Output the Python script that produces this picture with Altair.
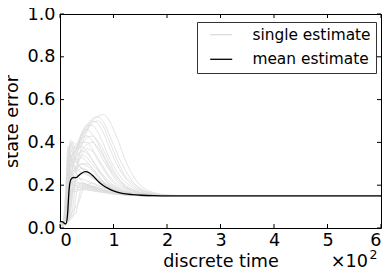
import altair as alt
import pandas as pd

# ---- data ----
t_grid = [0, 5, 10, 15, 20, 25, 30, 35, 40, 50, 60, 70, 80, 90, 100, 110, 120, 135, 150, 170, 200, 250, 600]

single_runs = [
    [0.03, 0.01, 0.02, 0.12, 0.28, 0.33, 0.36, 0.38, 0.41, 0.46, 0.50, 0.52, 0.53, 0.51, 0.46, 0.40, 0.33, 0.25, 0.20, 0.17, 0.155, 0.15, 0.15],
    [0.03, 0.01, 0.03, 0.18, 0.30, 0.34, 0.37, 0.40, 0.43, 0.48, 0.51, 0.52, 0.50, 0.45, 0.39, 0.33, 0.28, 0.22, 0.185, 0.165, 0.153, 0.15, 0.15],
    [0.03, 0.02, 0.05, 0.22, 0.33, 0.35, 0.36, 0.39, 0.42, 0.47, 0.50, 0.49, 0.45, 0.39, 0.33, 0.28, 0.24, 0.20, 0.175, 0.16, 0.152, 0.15, 0.15],
    [0.03, 0.02, 0.04, 0.20, 0.35, 0.38, 0.37, 0.40, 0.44, 0.48, 0.48, 0.45, 0.40, 0.34, 0.29, 0.25, 0.22, 0.19, 0.17, 0.158, 0.151, 0.15, 0.15],
    [0.03, 0.02, 0.06, 0.25, 0.38, 0.40, 0.39, 0.41, 0.44, 0.46, 0.44, 0.40, 0.35, 0.30, 0.26, 0.23, 0.20, 0.18, 0.165, 0.156, 0.151, 0.15, 0.15],
    [0.03, 0.01, 0.03, 0.15, 0.30, 0.36, 0.38, 0.40, 0.42, 0.43, 0.41, 0.37, 0.32, 0.28, 0.24, 0.21, 0.19, 0.175, 0.162, 0.155, 0.15, 0.15, 0.15],
    [0.03, 0.02, 0.08, 0.28, 0.41, 0.39, 0.37, 0.38, 0.40, 0.40, 0.37, 0.33, 0.29, 0.25, 0.22, 0.20, 0.185, 0.17, 0.16, 0.154, 0.15, 0.15, 0.15],
    [0.03, 0.01, 0.02, 0.10, 0.22, 0.30, 0.34, 0.37, 0.39, 0.45, 0.49, 0.50, 0.48, 0.42, 0.36, 0.30, 0.25, 0.21, 0.18, 0.162, 0.152, 0.15, 0.15],
    [0.03, 0.02, 0.06, 0.25, 0.33, 0.32, 0.33, 0.35, 0.36, 0.35, 0.32, 0.28, 0.25, 0.22, 0.20, 0.185, 0.175, 0.165, 0.158, 0.153, 0.15, 0.15, 0.15],
    [0.03, 0.02, 0.10, 0.30, 0.36, 0.34, 0.32, 0.33, 0.34, 0.33, 0.30, 0.27, 0.24, 0.21, 0.195, 0.18, 0.17, 0.162, 0.156, 0.152, 0.15, 0.15, 0.15],
    [0.03, 0.01, 0.04, 0.18, 0.28, 0.30, 0.31, 0.32, 0.33, 0.31, 0.28, 0.25, 0.22, 0.20, 0.185, 0.175, 0.168, 0.16, 0.155, 0.152, 0.15, 0.15, 0.15],
    [0.03, 0.02, 0.05, 0.22, 0.30, 0.28, 0.27, 0.29, 0.30, 0.29, 0.27, 0.24, 0.215, 0.195, 0.18, 0.172, 0.165, 0.158, 0.154, 0.151, 0.15, 0.15, 0.15],
    [0.03, 0.01, 0.02, 0.08, 0.20, 0.26, 0.29, 0.31, 0.34, 0.37, 0.36, 0.32, 0.28, 0.24, 0.21, 0.19, 0.177, 0.165, 0.157, 0.152, 0.15, 0.15, 0.15],
    [0.03, 0.02, 0.12, 0.35, 0.39, 0.35, 0.31, 0.29, 0.28, 0.27, 0.25, 0.23, 0.21, 0.195, 0.18, 0.17, 0.164, 0.157, 0.153, 0.151, 0.15, 0.15, 0.15],
    [0.03, 0.01, 0.03, 0.15, 0.25, 0.27, 0.26, 0.27, 0.28, 0.27, 0.25, 0.23, 0.21, 0.19, 0.178, 0.17, 0.163, 0.157, 0.153, 0.151, 0.15, 0.15, 0.15],
    [0.03, 0.02, 0.07, 0.28, 0.32, 0.30, 0.28, 0.27, 0.26, 0.25, 0.235, 0.22, 0.205, 0.19, 0.178, 0.17, 0.163, 0.156, 0.152, 0.15, 0.15, 0.15, 0.15],
    [0.03, 0.02, 0.08, 0.22, 0.24, 0.22, 0.21, 0.21, 0.21, 0.20, 0.195, 0.19, 0.18, 0.172, 0.166, 0.162, 0.158, 0.154, 0.152, 0.15, 0.15, 0.15, 0.15],
    [0.03, 0.01, 0.05, 0.20, 0.22, 0.20, 0.19, 0.19, 0.195, 0.19, 0.185, 0.178, 0.172, 0.167, 0.162, 0.158, 0.155, 0.152, 0.151, 0.15, 0.15, 0.15, 0.15],
    [0.03, 0.02, 0.04, 0.16, 0.19, 0.18, 0.18, 0.18, 0.185, 0.18, 0.176, 0.172, 0.168, 0.164, 0.16, 0.157, 0.155, 0.152, 0.151, 0.15, 0.15, 0.15, 0.15],
    [0.03, 0.01, 0.02, 0.05, 0.15, 0.19, 0.20, 0.20, 0.20, 0.195, 0.19, 0.183, 0.176, 0.17, 0.164, 0.16, 0.156, 0.153, 0.151, 0.15, 0.15, 0.15, 0.15],
    [0.03, 0.01, 0.02, 0.03, 0.08, 0.18, 0.22, 0.23, 0.23, 0.22, 0.21, 0.20, 0.19, 0.18, 0.172, 0.166, 0.161, 0.156, 0.153, 0.151, 0.15, 0.15, 0.15],
    [0.03, 0.01, 0.02, 0.03, 0.04, 0.06, 0.15, 0.20, 0.21, 0.205, 0.198, 0.19, 0.182, 0.175, 0.168, 0.163, 0.159, 0.155, 0.152, 0.15, 0.15, 0.15, 0.15],
    [0.03, 0.02, 0.02, 0.04, 0.05, 0.06, 0.07, 0.14, 0.18, 0.19, 0.185, 0.18, 0.175, 0.17, 0.165, 0.16, 0.157, 0.154, 0.152, 0.15, 0.15, 0.15, 0.15],
    [0.03, 0.02, 0.10, 0.26, 0.27, 0.24, 0.22, 0.21, 0.205, 0.20, 0.19, 0.183, 0.176, 0.17, 0.165, 0.16, 0.157, 0.154, 0.152, 0.15, 0.15, 0.15, 0.15],
    [0.03, 0.01, 0.03, 0.12, 0.18, 0.17, 0.17, 0.175, 0.18, 0.178, 0.174, 0.17, 0.166, 0.162, 0.159, 0.156, 0.154, 0.152, 0.151, 0.15, 0.15, 0.15, 0.15],
    [0.03, 0.01, 0.02, 0.04, 0.10, 0.20, 0.24, 0.25, 0.26, 0.25, 0.235, 0.22, 0.205, 0.19, 0.178, 0.17, 0.163, 0.157, 0.153, 0.151, 0.15, 0.15, 0.15],
    [0.03, 0.02, 0.03, 0.05, 0.12, 0.24, 0.28, 0.29, 0.30, 0.30, 0.28, 0.25, 0.22, 0.20, 0.185, 0.175, 0.167, 0.159, 0.154, 0.151, 0.15, 0.15, 0.15],
    [0.03, 0.02, 0.06, 0.30, 0.34, 0.30, 0.26, 0.24, 0.22, 0.205, 0.195, 0.185, 0.177, 0.17, 0.165, 0.16, 0.157, 0.154, 0.152, 0.15, 0.15, 0.15, 0.15],
    [0.03, 0.02, 0.15, 0.38, 0.33, 0.30, 0.34, 0.37, 0.38, 0.36, 0.32, 0.28, 0.24, 0.21, 0.19, 0.178, 0.168, 0.16, 0.155, 0.152, 0.15, 0.15, 0.15],
    [0.03, 0.01, 0.02, 0.03, 0.20, 0.31, 0.33, 0.30, 0.28, 0.26, 0.24, 0.22, 0.205, 0.19, 0.178, 0.17, 0.163, 0.157, 0.153, 0.151, 0.15, 0.15, 0.15],
    [0.03, 0.02, 0.03, 0.06, 0.18, 0.22, 0.20, 0.19, 0.19, 0.185, 0.18, 0.175, 0.17, 0.165, 0.161, 0.158, 0.155, 0.152, 0.151, 0.15, 0.15, 0.15, 0.15],
    [0.03, 0.01, 0.02, 0.03, 0.05, 0.12, 0.25, 0.33, 0.38, 0.42, 0.43, 0.41, 0.37, 0.32, 0.27, 0.23, 0.205, 0.18, 0.165, 0.156, 0.151, 0.15, 0.15],
    [0.03, 0.02, 0.09, 0.33, 0.40, 0.37, 0.35, 0.34, 0.36, 0.39, 0.40, 0.38, 0.34, 0.29, 0.25, 0.22, 0.195, 0.175, 0.163, 0.155, 0.151, 0.15, 0.15],
    [0.03, 0.01, 0.02, 0.04, 0.06, 0.08, 0.10, 0.12, 0.16, 0.20, 0.21, 0.20, 0.19, 0.18, 0.172, 0.165, 0.16, 0.155, 0.152, 0.15, 0.15, 0.15, 0.15],
]

t_mean = [0, 4, 8, 11, 14, 17, 20, 22, 26, 30, 35, 40, 47, 55, 63, 72, 80, 90, 100, 116, 135, 153, 175, 200, 250, 600]
mean_values = [0.03, 0.03, 0.022, 0.019, 0.06, 0.18, 0.225, 0.232, 0.236, 0.235, 0.245, 0.255, 0.263, 0.257, 0.24,
               0.216, 0.20, 0.185, 0.173, 0.162, 0.156, 0.153, 0.151, 0.15, 0.15, 0.15]

series_names = ["single estimate", "mean estimate"]
series_colors = ["#dcdcdc", "#000000"]
x_ticks = [0, 100, 200, 300, 400, 500, 600]
y_ticks = [0.0, 0.2, 0.4, 0.6, 0.8, 1.0]
x_title = "discrete time"
y_title = "state error"
offset_base = "×10"
offset_exp = "2"

# ---- tables ----
rows = []
for i, run in enumerate(single_runs):
    for t, v in zip(t_grid, run):
        rows.append({"t": t, "err": v, "run": i, "series": series_names[0]})
single_df = pd.DataFrame(rows)
mean_df = pd.DataFrame({"t": t_mean, "err": mean_values, "series": series_names[1]})
xt_df = pd.DataFrame({"t": x_ticks})
yt_df = pd.DataFrame({"v": y_ticks})
base_df = pd.DataFrame({"label": [offset_base]})
exp_df = pd.DataFrame({"label": [offset_exp]})

W, H = 321, 214
FONT = "DejaVu Sans"

xscale = alt.Scale(domain=[0, 600], nice=False, zero=False)
yscale = alt.Scale(domain=[0, 1], nice=False)

xaxis = alt.Axis(values=x_ticks, labelExpr="datum.value / 100", title=x_title, grid=False,
                 ticks=False, domain=False, labelPadding=3, titlePadding=4,
                 labelFont=FONT, labelFontSize=17.6, labelColor="black",
                 titleFont=FONT, titleFontSize=17.6, titleFontWeight="normal", titleColor="black")
yaxis = alt.Axis(values=y_ticks, format=".1f", title=y_title, grid=False, ticks=False,
                 domain=False, labelPadding=5, titlePadding=6,
                 labelFont=FONT, labelFontSize=17.6, labelColor="black",
                 titleFont=FONT, titleFontSize=17.6, titleFontWeight="normal", titleColor="black")

color = alt.Color(
    "series:N",
    scale=alt.Scale(domain=series_names, range=series_colors),
    legend=alt.Legend(
        title=None, orient="none", legendX=137, legendY=8,
        symbolType="M-2,0H2", symbolSize=121, symbolStrokeWidth=1.3,
        symbolOffset=11.5, labelOffset=23.5, labelFontSize=15.4, labelFont=FONT,
        labelColor="black", padding=5, rowPadding=7.6,
        strokeColor="#333333", fillColor="white",
    ),
)

single = alt.Chart(single_df).mark_line(strokeWidth=0.8, interpolate="monotone").encode(
    x=alt.X("t:Q", scale=xscale, axis=xaxis),
    y=alt.Y("err:Q", scale=yscale, axis=yaxis),
    color=color,
    detail="run:N",
)

mean = alt.Chart(mean_df).mark_line(strokeWidth=1.3, interpolate="monotone").encode(
    x=alt.X("t:Q", scale=xscale),
    y=alt.Y("err:Q", scale=yscale),
    color=color,
)

tick_style = dict(color="black", strokeWidth=1)
xt_bottom = alt.Chart(xt_df).mark_rule(**tick_style).encode(
    x=alt.X("t:Q", scale=xscale), y=alt.value(H), y2=alt.value(H - 4))
xt_top = alt.Chart(xt_df).mark_rule(**tick_style).encode(
    x=alt.X("t:Q", scale=xscale), y=alt.value(0), y2=alt.value(4))
yt_left = alt.Chart(yt_df).mark_rule(**tick_style).encode(
    y=alt.Y("v:Q", scale=yscale), x=alt.value(0), x2=alt.value(4))
yt_right = alt.Chart(yt_df).mark_rule(**tick_style).encode(
    y=alt.Y("v:Q", scale=yscale), x=alt.value(W - 4), x2=alt.value(W))

offset_b = alt.Chart(base_df).mark_text(align="right", baseline="alphabetic", font=FONT, fontSize=17.6,
                                        color="black").encode(
    x=alt.value(W - 13), y=alt.value(H + 39), text="label:N")
offset_e = alt.Chart(exp_df).mark_text(align="left", baseline="alphabetic", font=FONT, fontSize=12.5,
                                       color="black").encode(
    x=alt.value(W - 11.5), y=alt.value(H + 31), text="label:N")

chart = alt.layer(single, mean, xt_bottom, xt_top, yt_left, yt_right, offset_b, offset_e).properties(
    width=W, height=H,
    autosize=alt.AutoSizeParams(type="none"),
    padding={"left": 52, "top": 6, "right": 2, "bottom": 41},
    background="white",
).configure_view(stroke="black", strokeWidth=1)

chart.save("out.html", embed_options={"renderer": "svg", "actions": False})
